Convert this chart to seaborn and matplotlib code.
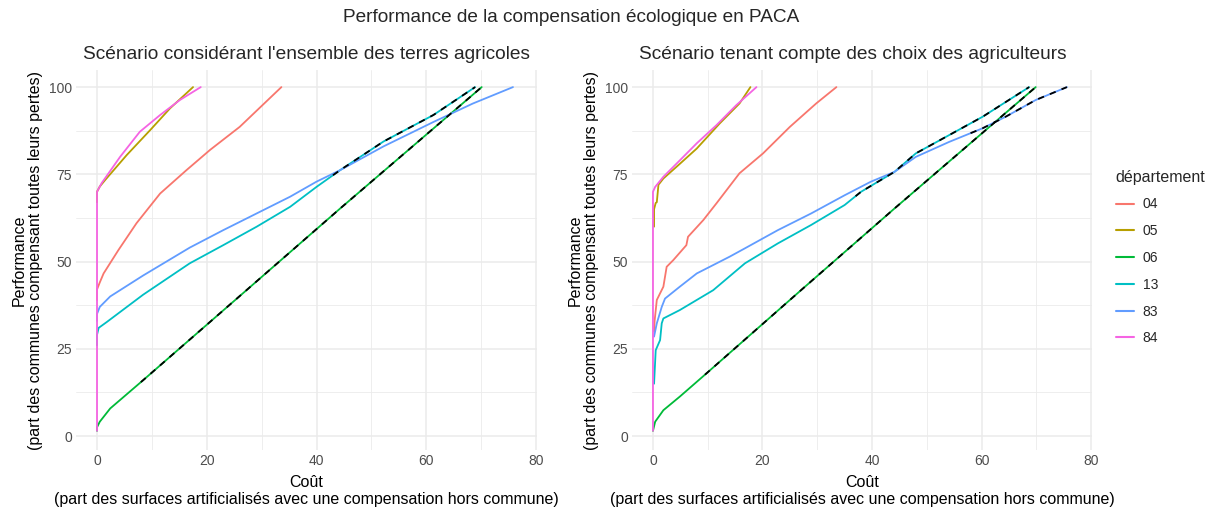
"""Performance de la compensation écologique en PACA (deux scénarios)."""

import numpy as np
import pandas as pd
import matplotlib
matplotlib.use("Agg")
import matplotlib.pyplot as plt
import seaborn as sns

departements = ["04", "05", "06", "13", "83", "84"]
couleurs = ["#F8766D", "#B79F00", "#00BA38", "#00BFC4", "#619CFF", "#F564E3"]

titre = "Performance de la compensation écologique en PACA"
titre_gauche = "Scénario considérant l'ensemble des terres agricoles"
titre_droite = "Scénario tenant compte des choix des agriculteurs"

# scénario 1 : ensemble des terres agricoles (coût, performance)
g04_x = [0, 0, 0.5, 1.2, 3.9, 7.2, 11.5, 16.3, 20.6, 26, 33.6]
g04_y = [39, 42, 44, 46.6, 53.3, 61, 69.5, 76.2, 82, 88.6, 100]
g05_x = [0, 0, 0.5, 1.5, 5.4, 9.7, 13.3, 17.5]
g05_y = [67, 70, 71.5, 73.4, 80.5, 87.7, 93.9, 100]
g06_x = [0, 0, 0.5, 2.4, 8.4, 27.6, 44.3, 70.1]
g06_y = [1.5, 2.5, 4.1, 7.9, 16, 42.3, 65.2, 100]
g13_x = [0, 0, 0.3, 1.8, 8.4, 16.9, 23, 29.1, 35.2, 40, 44.3, 52.2, 61.3, 68.9]
g13_y = [26, 29, 31, 32.7, 40.5, 49.5, 54.7, 60, 65.7, 71.4, 76.2, 84.4, 92, 100]
g83_x = [0, 0, 0.5, 2.4, 8.4, 16.9, 23, 29.1, 35.2, 40, 44.3, 52.2, 61.3, 68.5, 75.8]
g83_y = [33, 35, 37, 40, 46, 54, 59, 63.8, 68.6, 72.9, 76.2, 83, 90, 95.3, 100]
g84_x = [0, 0, 0.85, 4.2, 7.8, 11.5, 15.1, 18.9]
g84_y = [1.5, 70, 72.5, 80, 87.2, 92, 96.3, 100]

# scénario 2 : choix des agriculteurs
d04_x = [0.2, 0.3, 0.7, 1.9, 2.5, 3.7, 6.1, 6.4, 9.2, 11.6, 15.8, 20.1, 25, 29.8, 33.5]
d04_y = [30, 33, 39, 42.8, 48.5, 50.4, 54.7, 57.1, 61.9, 66.7, 75.3, 81, 88.6, 95.3, 100]
d05_x = [0.2, 0.2, 0.5, 0.7, 1.0, 1.9, 4.9, 8, 12.2, 15.8, 17.8]
d05_y = [60, 65, 66.8, 67, 72, 73.8, 78, 82.4, 89.6, 95.3, 100]
d06_x = [0, 0.4, 1.9, 4.9, 9.8, 27.4, 44.1, 69.9]
d06_y = [1.5, 4.1, 7.4, 11.3, 18, 42.3, 65.2, 100]
d13_x = [0.2, 0.5, 1.3, 1.6, 1.9, 4.9, 11, 16.8, 22.8, 28.9, 35, 38, 44.1, 48, 60.2, 68.7]
d13_y = [15, 24.6, 27.5, 32.3, 33.7, 36.1, 41.8, 49.5, 55.2, 60.5, 66.2, 70, 75.7, 81, 91.5, 100]
d83_x = [0.2, 0.7, 1.6, 2.2, 4.9, 8, 14, 16.8, 22.8, 28.9, 35, 39.8, 44.1, 48, 54.1, 60.2, 64.4, 69.9, 75.6]
d83_y = [28.5, 32.3, 37, 39.4, 42.8, 46.6, 51.4, 53.8, 59, 63.8, 69, 72.9, 75.7, 80, 84.3, 88.2, 91.5, 96.3, 100]
d84_x = [0, 0, 0.4, 1.9, 4.9, 8, 11.6, 15.2, 18.9]
d84_y = [1.5, 70, 71.4, 74.3, 79, 83.9, 89.1, 94.8, 100]

# portions des courbes doublées en tirets noirs (département, coût de départ)
tirets_gauche = [("06", 8.0), ("13", 43.0)]
tirets_droite = [("06", 9.5), ("13", 37.0), ("83", 58.0)]

x_ticks = [0, 20, 40, 60, 80]
y_ticks = [0, 25, 50, 75, 100]


def to_frame(courbes):
    rows = []
    for dep, (xs, ys) in zip(departements, courbes):
        for x, y in zip(xs, ys):
            rows.append({"cout": x, "perf": y, "département": dep})
    return pd.DataFrame(rows)


gauche = to_frame([(g04_x, g04_y), (g05_x, g05_y), (g06_x, g06_y),
                   (g13_x, g13_y), (g83_x, g83_y), (g84_x, g84_y)])
droite = to_frame([(d04_x, d04_y), (d05_x, d05_y), (d06_x, d06_y),
                   (d13_x, d13_y), (d83_x, d83_y), (d84_x, d84_y)])

sns.set_theme(style="whitegrid")
plt.rcParams["font.family"] = ["Liberation Sans", "DejaVu Sans"]

fig = plt.figure(figsize=(12.1, 5.15), dpi=100)
ax_g = fig.add_axes([76 / 1210, 1 - 450 / 515, 461 / 1210, 380 / 515])
ax_d = fig.add_axes([632 / 1210, 1 - 450 / 515, 460 / 1210, 380 / 515])


def panel(ax, df, tirets, sous_titre, legende):
    sns.lineplot(data=df, x="cout", y="perf", hue="département",
                 palette=dict(zip(departements, couleurs)), sort=False,
                 estimator=None, linewidth=1.3, ax=ax, legend=legende)
    for dep, debut in tirets:
        sub = df[df["département"] == dep]
        xs = sub["cout"].to_numpy()
        ys = sub["perf"].to_numpy()
        keep = xs > debut
        x_seg = np.concatenate([[debut], xs[keep]])
        y_seg = np.concatenate([[np.interp(debut, xs, ys)], ys[keep]])
        ax.plot(x_seg, y_seg, color="black", linewidth=1.3,
                linestyle=(0, (3.5, 3.5)))

    ax.set_xlim(-3.83, 80.18)
    ax.set_ylim(-4.0, 104.9)
    ax.set_xticks(x_ticks)
    ax.set_yticks(y_ticks)
    ax.set_xticks([10, 30, 50, 70], minor=True)
    ax.set_yticks([12.5, 37.5, 62.5, 87.5], minor=True)
    ax.grid(which="major", color="#EBEBEB", linewidth=1.1)
    ax.grid(which="minor", color="#EBEBEB", linewidth=0.6)
    ax.set_facecolor("white")
    for s in ax.spines.values():
        s.set_visible(False)
    ax.tick_params(which="both", length=0, labelsize=10, colors="#4D4D4D", pad=3)
    ax.set_xlabel("Coût\n(part des surfaces artificialisés avec une compensation hors commune)",
                  fontsize=11.5, color="black", labelpad=5, linespacing=1.15)
    ax.set_ylabel("Performance\n(part des communes compensant toutes leurs pertes)",
                  fontsize=11.5, color="black", labelpad=4, linespacing=1.1)
    ax.set_title(sous_titre, fontsize=13.8, loc="left", pad=8, x=0.015)


panel(ax_g, gauche, tirets_gauche, titre_gauche, False)
panel(ax_d, droite, tirets_droite, titre_droite, True)

handles, labels = ax_d.get_legend_handles_labels()
ax_d.get_legend().remove()
leg = fig.legend(handles, labels, title="département", loc="center left",
                 bbox_to_anchor=(1103 / 1210, 0.5), frameon=False, fontsize=10,
                 title_fontsize=11.5, handlelength=1.35, labelspacing=0.92,
                 handletextpad=0.6)
leg._legend_box.align = "left"
for line in leg.get_lines():
    line.set_linewidth(1.5)

fig.text(571 / 1210, 1 - 18 / 515, titre, ha="center", va="center", fontsize=13.7)

fig.savefig("out.png", dpi=100)
